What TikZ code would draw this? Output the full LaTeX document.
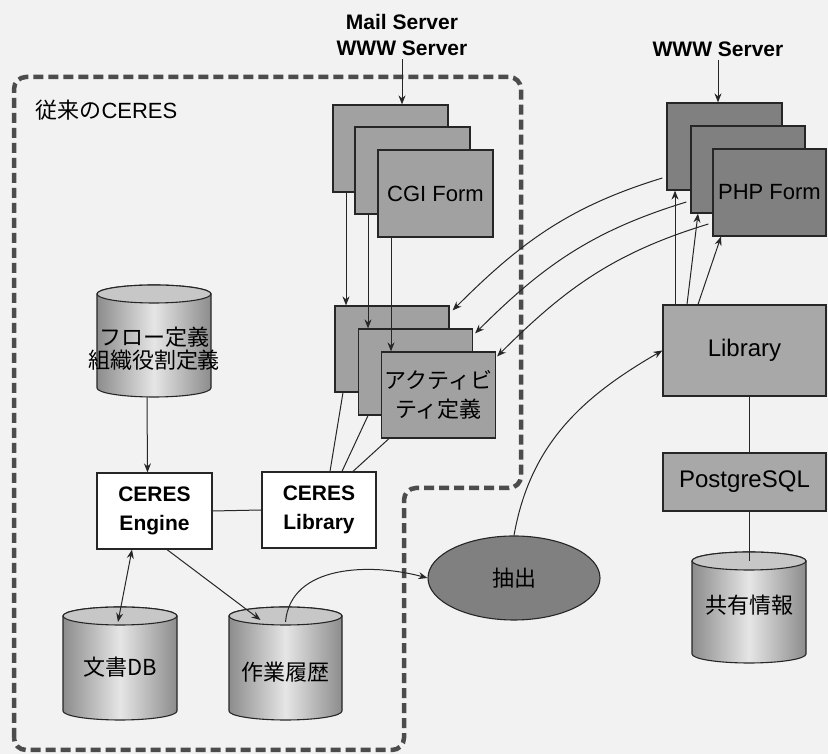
\documentclass[tikz,border=0pt]{standalone}
\usepackage{fontspec}
\setmainfont{Liberation Sans}
\newfontfamily\jp{Noto Sans CJK JP}
\usetikzlibrary{arrows.meta,shapes.geometric}
\definecolor{bgcol}{gray}{0.95}
\definecolor{formfill}{gray}{0.63}
\definecolor{phpfill}{gray}{0.5}
\definecolor{libfill}{gray}{0.66}
\definecolor{extfill}{gray}{0.5}
\definecolor{cyldark}{gray}{0.55}
\definecolor{cyllight}{gray}{0.9}
\definecolor{cyltopc}{gray}{0.78}
\definecolor{dashcol}{gray}{0.3}
\tikzset{
  every node/.style={font=\fontsize{22}{29}\selectfont},
  formbox/.style={draw=black!85, line width=1.2pt, fill=formfill, inner sep=0pt},
  phpbox/.style={draw=black!85, line width=1.2pt, fill=phpfill, inner sep=0pt},
  libbox/.style={draw=black!85, line width=1.2pt, fill=libfill, inner sep=0pt, font=\fontsize{24}{29}\selectfont},
  whitebox/.style={draw=black!85, line width=1.2pt, fill=white, inner sep=0pt, align=center, font=\fontsize{21}{29}\selectfont\bfseries},
  cylbody/.style={draw=black!85, line width=1.1pt, left color=cyldark, right color=cyldark, middle color=cyllight},
  cyltop/.style={draw=black!85, line width=1.1pt, fill=cyltopc},
  cyltext/.style={align=center, font=\fontsize{22}{23}\selectfont\jp},
  arr/.style={draw=black!85, line width=1pt, -{Stealth[length=9pt,width=7pt]}},
  conn/.style={draw=black!85, line width=1pt},
  frame/.style={draw=dashcol, line width=4.5pt, dash pattern=on 10pt off 5pt, rounded corners=12pt},
}
\newcommand\dbcyl[7]{%
  \path[cylbody] (#2-#5,#3-9) -- (#2-#5,#4+9) arc[start angle=180,end angle=360,x radius=#5,y radius=9] -- (#2+#5,#3-9) arc[start angle=0,end angle=180,x radius=#5,y radius=9] -- cycle;
  \path[cyltop] (#2,#3-9) ellipse[x radius=#5,y radius=9];
  \node[inner sep=0pt, minimum width=2*#5, minimum height=#3-#4] (#1) at (#2,{(#3+#4)/2}) {};
  \coordinate (#1-top) at (#2,#3-9);
  \node[cyltext] (#1-label) at (#2,#6) {#7};
}
\begin{document}
\begin{tikzpicture}[x=1pt,y=1pt]
\fill[bgcol] (0,0) rectangle (828,754);
\useasboundingbox (0,0) rectangle (828,754);

% dashed frame of the old CERES
\draw[frame] (14,4) -- (14,677) -- (521,677) -- (521,266) -- (404,266) -- (404,4) -- cycle;
\node[anchor=west, font=\fontsize{22}{26}\selectfont] (oldceres) at (32,644) {{\jp 従来の}CERES};

% top labels
\node[align=center, font=\fontsize{21}{26}\selectfont\bfseries] (mail) at (402,719) {Mail Server\\WWW Server};
\node[font=\fontsize{21}{26}\selectfont\bfseries] (www) at (718,705) {WWW Server};

% CGI forms
\node[formbox, minimum width=115, minimum height=87] (cgi1) at (390.5,605.5) {};
\node[formbox, minimum width=115, minimum height=87] (cgi2) at (412.5,583.5) {};
\node[formbox, minimum width=115, minimum height=87] (cgi3) at (435.5,560.5) {CGI Form};

% activity definitions
\node[formbox, minimum width=114, minimum height=86] (a1) at (392,405) {};
\node[formbox, minimum width=114, minimum height=86] (a2) at (415.5,382) {};
\node[formbox, minimum width=114, minimum height=86, align=center, font=\fontsize{22}{29}\selectfont\jp] (a3) at (438.5,359) {アクティビ\\ティ定義};

% PHP forms
\node[phpbox, minimum width=115, minimum height=87] (p1) at (724.5,607.5) {};
\node[phpbox, minimum width=114, minimum height=87] (p2) at (748,584.5) {};
\node[phpbox, minimum width=113, minimum height=87] (p3) at (769.5,561.5) {PHP Form};

% right library and PostgreSQL
\node[libbox, minimum width=163, minimum height=91] (rlib) at (744.5,403.5) {Library};
\node[libbox, minimum width=163, minimum height=58] (pg) at (744.5,272) {PostgreSQL};

% CERES engine and library
\node[whitebox, minimum width=115, minimum height=76] (engine) at (154.5,243) {CERES\\Engine};
\node[whitebox, minimum width=114, minimum height=76] (clib) at (319,244) {CERES\\Library};

% cylinders
\dbcyl{flow}{154}{469}{357}{57}{405.5}{フロー定義\\組織役割定義}
\dbcyl{doc}{120}{147}{34}{57}{87}{文書DB}
\dbcyl{hist}{285.5}{147}{34}{56.5}{82}{作業履歴}
\dbcyl{share}{749}{202}{91}{57}{149}{共有情報}

% extraction ellipse
\node[ellipse, draw=black!85, line width=1.1pt, fill=extfill, minimum width=172, minimum height=84, inner sep=0pt, font=\fontsize{22}{26}\selectfont\jp] (ext) at (514,176) {抽出};

% connectors
\draw[arr] (mail.south) -- (mail.south |- cgi1.north);
\draw[arr] (www.south) -- (www.south |- p1.north);

\draw[arr] ([xshift=-44.5pt]cgi1.south) -- ([xshift=-46pt]a1.north);
\draw[arr] ([xshift=-44.5pt]cgi2.south) -- ([xshift=-47.5pt]a2.north);
\draw[arr] ([xshift=-44.5pt]cgi3.south) -- ([xshift=-47.5pt]a3.north);

\draw[conn] ([xshift=-49pt]a1.south) -- ([xshift=11pt]clib.north);
\draw[conn] ([xshift=-47.5pt]a2.south) -- ([xshift=23pt]clib.north);
\draw[conn] ([xshift=-49.5pt]a3.south) -- ([xshift=34pt]clib.north);

\draw[conn] (engine.east) -- (clib.west);
\draw[arr] ([xshift=-7pt]flow.south) -- ([xshift=-7pt]engine.north);
\draw[draw=black!85, line width=1pt, {Stealth[length=9pt,width=7pt]}-{Stealth[length=9pt,width=7pt]}] ([xshift=-22.5pt]engine.south) -- ([xshift=-2pt,yshift=-6pt]doc-top);
\draw[arr] ([xshift=12.5pt]engine.south) -- ([xshift=-25pt,yshift=-4pt]hist-top);

\draw[arr] ([yshift=-6pt]hist-top) to[out=85,in=165] (ext.west);
\draw[arr] (ext.north) to[out=80,in=210] (rlib.west);

\draw[arr] ([xshift=-69.5pt]rlib.north) -- ([xshift=-49.5pt]p1.south);
\draw[arr] ([xshift=-57.5pt]rlib.north) -- ([xshift=-50pt]p2.south);
\draw[arr] ([xshift=-46.5pt]rlib.north) -- ([xshift=-48.5pt]p3.south);

\draw[arr] ([xshift=-4pt,yshift=-31.5pt]p1.west) to[out=197,in=45] ([xshift=3pt,yshift=-5pt]a1.north east);
\draw[arr] ([xshift=-4pt,yshift=-32.5pt]p2.west) to[out=197,in=45] ([xshift=2pt,yshift=-5pt]a2.north east);
\draw[arr] ([xshift=-4pt,yshift=-31.5pt]p3.west) to[out=197,in=45] ([xshift=1pt,yshift=-5pt]a3.north east);

\draw[conn] (share-top |- rlib.south) -- (share-top |- pg.north);
\draw[conn] (share-top |- pg.south) -- (share-top);
\end{tikzpicture}
\end{document}
